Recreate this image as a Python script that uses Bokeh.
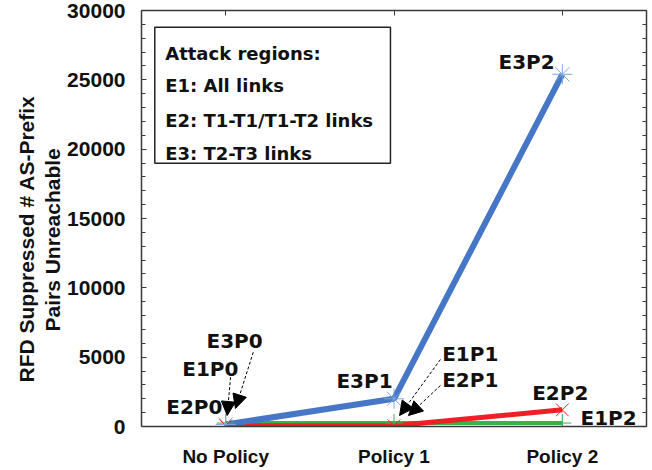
import math
from bokeh.plotting import figure
from bokeh.models import (FactorRange, Range1d, LinearAxis, CategoricalAxis, Label, Title,
                          Arrow, NormalHead, BoxAnnotation, SingleIntervalTicker,
                          CustomJSTickFormatter)
from bokeh.embed import file_html
from bokeh.resources import INLINE

categories = ["No Policy", "Policy 1", "Policy 2"]
e1_values = [250, 250, 250]
e2_values = [50, 50, 1200]
e3_values = [150, 2000, 25400]

point_labels = ["E2P0", "E1P0", "E3P0", "E3P1", "E1P1", "E2P1", "E2P2", "E1P2", "E3P2"]
label_x = [0.147, 0.242, 0.386, 1.158, 1.786, 1.786, 2.321, 2.608, 2.121]
label_y = [1442, 4182, 6201, 3317, 5263, 3389, 2401, 577, 26317]

legend_lines = ["Attack regions:", "E1: All links", "E2: T1-T1/T1-T2 links", "E3: T2-T3 links"]
legend_y = [26915, 24586, 22062, 19705]

y_title_lines = ["RFD Suppressed # AS-Prefix", "Pairs Unreachable"]
y_title_offsets = [44, 95]

# arrows: (x_start, y_start, x_end, y_end)
arrows = [
    (0.664, 5357, 0.558, 1298),
    (0.529, 3555, 0.509, 793),
    (1.776, 4831, 1.533, 793),
    (1.776, 2956, 1.586, 793),
]

BLUE = "#4677c6"
RED = "#ee1f26"
GREEN = "#36b34a"
AX = "#3a3a3a"
LFONT = "DejaVu Sans"
AFONT = "Liberation Sans"

p = figure(x_range=FactorRange(*categories, range_padding=0),
           y_range=Range1d(0, 30000),
           frame_width=505, frame_height=416,
           min_border_left=141, min_border_right=4, min_border_top=10, min_border_bottom=40,
           output_backend="svg", toolbar_location=None)
p.outline_line_color = None
p.grid.visible = False
p.background_fill_color = "white"
p.border_fill_color = "white"

# lines
p.line(categories, e1_values, line_color=GREEN, line_width=4)
p.line(categories, e2_values, line_color=RED, line_width=5)
p.line(categories, e3_values, line_color=BLUE, line_width=6)
p.scatter(categories, e1_values, marker="cross", size=18, line_color=GREEN, line_width=1)
p.scatter(categories, e2_values, marker="x", size=18, line_color=RED, line_width=1)
p.scatter(categories, e3_values, marker="asterisk", size=20, line_color="#7ea6e0", line_width=1)

# y axis
yax = p.yaxis[0]
yax.ticker = SingleIntervalTicker(interval=5000, num_minor_ticks=5)
yax.major_tick_in = 5
yax.major_tick_out = 0
yax.minor_tick_in = 4
yax.minor_tick_out = 0
yax.major_label_standoff = 16
yax.major_label_text_font = AFONT
yax.major_label_text_font_style = "bold"
yax.major_label_text_font_size = "21px"
yax.major_label_text_color = "#111111"
yax.axis_line_color = AX
yax.axis_line_width = 1.5
yax.major_tick_line_color = AX
yax.minor_tick_line_color = AX

xax = p.xaxis[0]
xax.major_tick_in = 0
xax.major_tick_out = 0
xax.major_label_standoff = 19
xax.major_label_text_font = AFONT
xax.major_label_text_font_style = "bold"
xax.major_label_text_font_size = "19px"
xax.major_label_text_color = "#111111"
xax.axis_line_color = AX
xax.axis_line_width = 1.5

blank = CustomJSTickFormatter(code="return ''")
top = CategoricalAxis(major_tick_in=5, major_tick_out=0, major_label_text_font_size="1px",
                      major_label_standoff=0, axis_line_color=AX, axis_line_width=1.5,
                      major_tick_line_color=AX, formatter=blank)
p.add_layout(top, "above")
right = LinearAxis(ticker=SingleIntervalTicker(interval=5000, num_minor_ticks=5),
                   major_tick_in=5, major_tick_out=0, minor_tick_in=4, minor_tick_out=0,
                   major_label_text_font_size="1px", major_label_standoff=0,
                   axis_line_color=AX, axis_line_width=1.5, formatter=blank,
                   major_tick_line_color=AX, minor_tick_line_color=AX)
p.add_layout(right, "right")

# y axis title, two lines (inner line added first)
for t, off in reversed(list(zip(y_title_lines, y_title_offsets))):
    p.add_layout(Title(text=t, align="left", offset=off, standoff=1,
                       text_font=AFONT, text_font_style="bold", text_font_size="21px",
                       text_color="#111111"), "left")

# legend box
p.add_layout(BoxAnnotation(left=0.079, right=1.479, bottom=18984, top=28790,
                           fill_color="white", fill_alpha=1.0,
                           line_color="#222222", line_alpha=1.0, line_width=1.5,
                           level="annotation"))
for t, yy in zip(legend_lines, legend_y):
    p.add_layout(Label(x=0.141, y=yy, text=t, text_align="left", text_baseline="alphabetic",
                       text_font=LFONT, text_font_style="bold", text_font_size="18px",
                       text_color="#111111"))

# point labels
for t, xx, yy in zip(point_labels, label_x, label_y):
    p.add_layout(Label(x=xx, y=yy, text=t, text_align="left", text_baseline="middle",
                       text_font=LFONT, text_font_style="bold", text_font_size="20px",
                       text_color="#111111"))

for xs, ys, xe, ye in arrows:
    p.add_layout(Arrow(x_start=xs, y_start=ys, x_end=xe, y_end=ye,
                       line_color="black", line_width=1, line_dash="3 2",
                       end=NormalHead(size=14, fill_color="black", line_color="black")))

open("out.html", "w").write(file_html(p, INLINE))
